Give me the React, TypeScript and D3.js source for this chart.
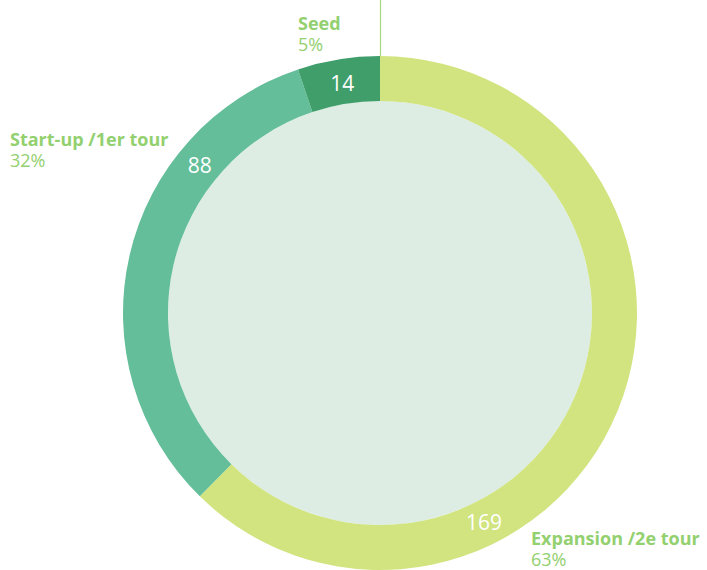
import React from "react";
import * as d3 from "d3";

const categories = ["Expansion /2e tour", "Start-up /1er tour", "Seed"];
const values = [169, 88, 14];
const percents = ["63%", "32%", "5%"];
const colors = ["#d1e47f", "#63be99", "#3f9e6a"];

const W = 707;
const H = 570;
const CX = 380;
const CY = 313;
const R_OUT = 257;
const R_IN = 212;
const labelFrac = [0.684, 0.727, 0.5];
const labelPos: [number, number][] = [
  [531, 545],
  [10, 146],
  [298, 30],
];
const labelGreen = "#93d06f";

export default function App() {
  const pie = d3.pie<number>().sort(null).value((d) => d);
  const arcs = pie(values);
  const arc = d3.arc<d3.PieArcDatum<number>>().innerRadius(R_IN).outerRadius(R_OUT);
  const rLabel = (R_IN + R_OUT) / 2 - 1;
  return (
    <svg
      width={W}
      height={H}
      style={{ position: "absolute", left: 0, top: 0, fontFamily: "'Open Sans', sans-serif" }}
    >
      <circle cx={CX} cy={CY} r={R_IN} fill="#ddede3" />
      <g transform={`translate(${CX},${CY})`}>
        {arcs.map((a, i) => (
          <path key={i} d={arc(a) || ""} fill={colors[i]} />
        ))}
        {arcs.map((a, i) => {
          const ang = a.startAngle + labelFrac[i] * (a.endAngle - a.startAngle);
          const x = rLabel * Math.sin(ang);
          const y = -rLabel * Math.cos(ang);
          return (
            <text
              key={i}
              x={x}
              y={y}
              textAnchor="middle"
              dominantBaseline="central"
              fill="#ffffff"
              fontSize={21}
              fontWeight={400}
            >
              {a.data}
            </text>
          );
        })}
      </g>
      <line x1={CX + 0.5} x2={CX + 0.5} y1={0} y2={CY - R_OUT} stroke="#a8d67a" strokeWidth={1.2} />
      <text x={553} y={-5} fill={labelGreen} fontSize={18} fontWeight="bold">
        pop
      </text>
      {categories.map((c, i) => (
        <text key={c} x={labelPos[i][0]} y={labelPos[i][1]} fill={labelGreen} fontSize={18}>
          <tspan fontWeight="bold">{c}</tspan>
          <tspan x={labelPos[i][0]} dy={21} fontWeight={400}>
            {percents[i]}
          </tspan>
        </text>
      ))}
    </svg>
  );
}
